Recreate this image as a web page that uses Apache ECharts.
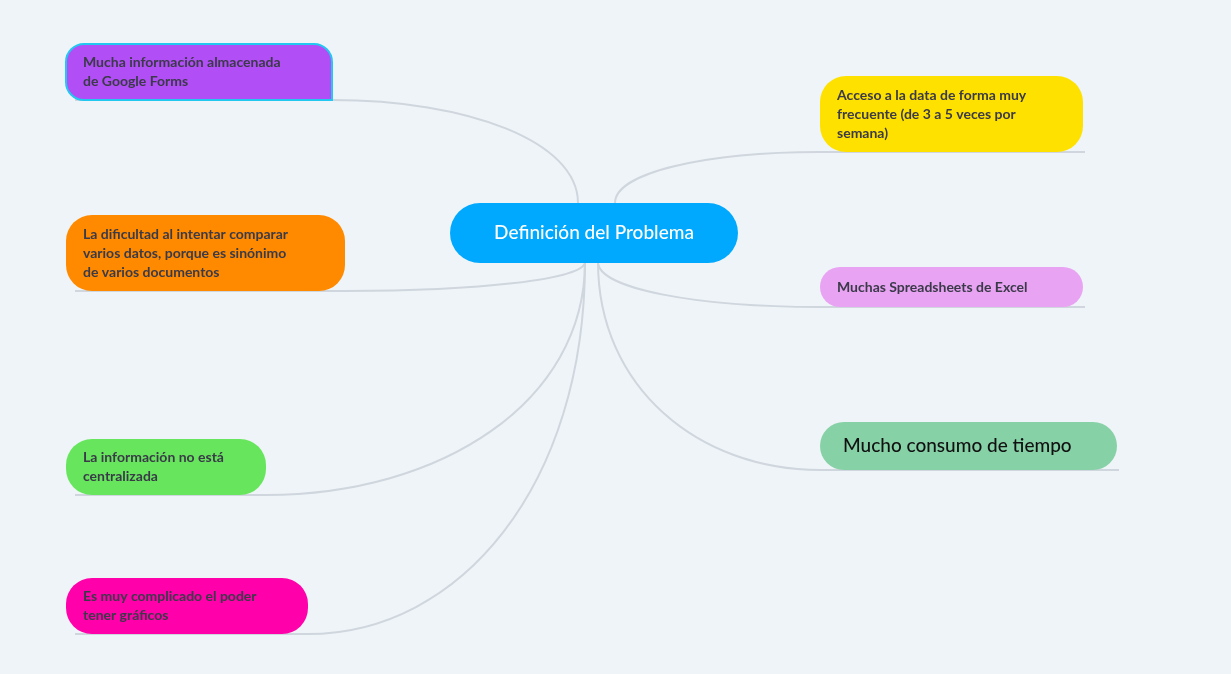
<!DOCTYPE html>
<html>
<head>
<meta charset="utf-8">
<script src="https://cdn.jsdelivr.net/npm/echarts@6/dist/echarts.min.js"></script>
<style>
  html, body { margin: 0; padding: 0; background: #eff4f8; }
  #chart { width: 1231px; height: 674px; }
</style>
</head>
<body>
<div id="chart"></div>
<script>
// mind map nodes: labels, colours, box extents (in chart units = px of reference)
const labels = [
  'Mucha información almacenada\nde Google Forms',
  'La dificultad al intentar comparar\nvarios datos, porque es sinónimo\nde varios documentos',
  'La información no está\ncentralizada',
  'Es muy complicado el poder\ntener gráficos',
  'Acceso a la data de forma muy\nfrecuente (de 3 a 5 veces por\nsemana)',
  'Muchas Spreadsheets de Excel',
  'Mucho consumo de tiempo'
];
const colors = ['#b24ef5', '#ff8a00', '#67e65d', '#ff00ab', '#ffe100', '#e9a3f3', '#87d1a7'];
const side = ['L', 'L', 'L', 'L', 'R', 'R', 'R'];
const boxLeft = [66, 66, 66, 66, 820, 820, 820];
const boxRight = [332, 345, 266, 308, 1083, 1083, 1117];
const boxTop = [44, 215, 439, 578, 76, 267, 422];
const boxBottom = [100, 291, 495, 634, 152, 307, 470];
const lineStartX = [578, 585, 585, 585, 615, 598, 598];
const lineStartY = [203, 262, 262, 262, 203, 262, 262];
const root = { label: 'Definición del Problema', x0: 450, x1: 738, y0: 203, y1: 263, color: '#00a9fd' };

const chart = echarts.init(document.getElementById('chart'));

function renderNode(params, api) {
  const i = params.dataIndex;
  const left = side[i] === 'L';
  const tl = api.coord([boxLeft[i], boxTop[i]]);
  const br = api.coord([boxRight[i], boxBottom[i]]);
  const s = api.coord([lineStartX[i], lineStartY[i]]);
  const ex = left ? br[0] : tl[0];
  const ey = br[1];
  const ulEnd = api.coord([left ? 75 : (boxRight[i] + 2), boxBottom[i]]);
  const h = br[1] - tl[1];
  const path = 'M' + s[0] + ' ' + s[1] +
    ' C' + s[0] + ' ' + (s[1] + (ey - s[1]) * 0.6) + ' ' +
    (s[0] + (ex - s[0]) * 0.45) + ' ' + ey + ' ' + ex + ' ' + ey +
    ' L' + ulEnd[0] + ' ' + ulEnd[1];
  const big = i === 6;
  return {
    type: 'group',
    children: [
      { type: 'path', shape: { pathData: path }, style: { fill: null, stroke: '#cfd6dd', lineWidth: 2 } },
      {
        type: 'rect',
        shape: { x: tl[0], y: tl[1], width: br[0] - tl[0], height: h, r: left && i === 0 ? [18, 18, 0, 18] : h / 2 > 26 ? 26 : h / 2 },
        style: { fill: colors[i], stroke: i === 0 ? '#22c8f0' : null, lineWidth: i === 0 ? 2 : 0 }
      },
      {
        type: 'text',
        x: tl[0] + (big ? 23 : 17), y: (tl[1] + br[1]) / 2,
        style: {
          text: labels[i], fill: big ? '#111' : '#3a3a48',
          font: (big ? '500 19px' : 'bold 14px') + ' Lato, "Noto Sans", sans-serif',
          lineHeight: 19, verticalAlign: 'middle', align: 'left'
        }
      }
    ]
  };
}

function renderRoot(params, api) {
  const tl = api.coord([root.x0, root.y0]);
  const br = api.coord([root.x1, root.y1]);
  return {
    type: 'group',
    children: [
      { type: 'rect', shape: { x: tl[0], y: tl[1], width: br[0] - tl[0], height: br[1] - tl[1], r: 30 }, style: { fill: root.color } },
      { type: 'text', x: (tl[0] + br[0]) / 2, y: (tl[1] + br[1]) / 2,
        style: { text: root.label, fill: '#fff', font: '500 19px Lato, "Noto Sans", sans-serif', align: 'center', verticalAlign: 'middle' } }
    ]
  };
}

chart.setOption({
  backgroundColor: '#eff4f8',
  animation: false,
  grid: { left: 0, right: 0, top: 0, bottom: 0 },
  xAxis: { type: 'value', min: 0, max: 1231, show: false },
  yAxis: { type: 'value', min: 0, max: 674, inverse: true, show: false },
  series: [
    { type: 'custom', renderItem: renderNode, data: labels.map((l, i) => [boxLeft[i], boxTop[i]]), z: 2 },
    { type: 'custom', renderItem: renderRoot, data: [[root.x0, root.y0]], z: 3 }
  ]
});
</script>
</body>
</html>
